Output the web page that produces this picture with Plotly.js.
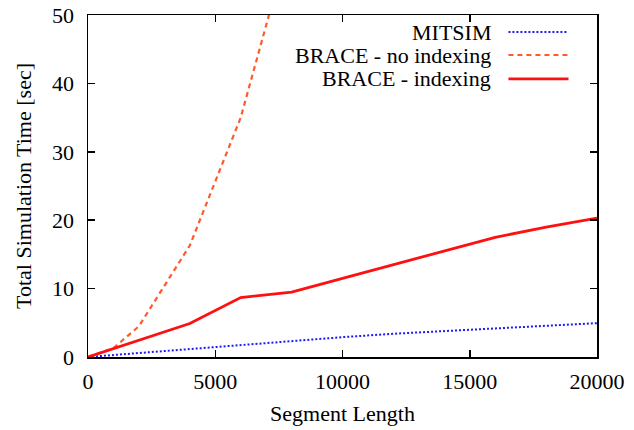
<!DOCTYPE html>
<html><head><meta charset="utf-8">
<script src="https://cdn.plot.ly/plotly-3.0.1.min.js"></script>
<style>html,body{margin:0;padding:0;background:#fff}#c{width:634px;height:430px}</style>
</head><body><div id="c"></div>
<script>
const seriesNames = ["MITSIM", "BRACE - no indexing", "BRACE - indexing"];
const xMitsim = [0, 2000, 4000, 6000, 8000, 10000, 12000, 14000, 16000, 18000, 20000];
const yMitsim = [0, 0.6, 1.2, 1.8, 2.4, 2.9, 3.4, 3.8, 4.2, 4.6, 4.95];
const xNoIdx = [0, 1000, 2000, 4000, 6000, 8000];
const yNoIdx = [0, 1.3, 4.5, 16.3, 35, 62];
const xIdx = [0, 2000, 4000, 6000, 8000, 10000, 12000, 14000, 16000, 18000, 20000];
const yIdx = [0, 2.5, 4.9, 8.7, 9.5, 11.5, 13.5, 15.5, 17.5, 19.0, 20.3];
const xTicks = [0, 5000, 10000, 15000, 20000];
const yTicks = [0, 10, 20, 30, 40, 50];

const F = "Liberation Serif";
const FS = 22;
const traces = [
  {x: xMitsim, y: yMitsim, mode: "lines", name: seriesNames[0],
   line: {color: "#1a1aff", width: 2, dash: "2px,2px"}},
  {x: xNoIdx, y: yNoIdx, mode: "lines", name: seriesNames[1],
   line: {color: "#ff5a2a", width: 2.2, dash: "5px,4px"}},
  {x: xIdx, y: yIdx, mode: "lines", name: seriesNames[2],
   line: {color: "#ff1010", width: 2.8}}
];
const legY = [0.950, 0.883, 0.813];
const legDash = ["2px,2px", "5px,4px", "solid"];
const legColor = ["#1a1aff", "#ff5a2a", "#ff1010"];
const legW = [2, 2.2, 2.8];
const annotations = [], shapes = [];
for (let i = 0; i < 3; i++) {
  annotations.push({xref: "paper", yref: "paper", x: 0.796, y: legY[i], xanchor: "right", yanchor: "middle",
    text: seriesNames[i], showarrow: false, font: {family: F, size: FS, color: "#000"}});
  shapes.push({type: "line", xref: "paper", yref: "paper", x0: 0.826, x1: 0.944, y0: legY[i], y1: legY[i],
    line: {color: legColor[i], width: legW[i], dash: legDash[i]}});
}
const layout = {
  width: 634, height: 430,
  margin: {l: 88, r: 37, t: 15, b: 73},
  paper_bgcolor: "#fff", plot_bgcolor: "#fff",
  showlegend: false,
  xaxis: {range: [0, 20000], tickvals: xTicks, ticktext: xTicks.map(String),
    ticks: "inside", ticklen: 7, tickwidth: 1.5, tickcolor: "#000", mirror: "ticks",
    showline: true, linecolor: "#000", linewidth: 1.5, showgrid: false, zeroline: false,
    tickfont: {family: F, size: FS, color: "#000"}, ticklabelstandoff: 4,
    title: {text: "Segment Length", font: {family: F, size: FS, color: "#000"}, standoff: 12}},
  yaxis: {range: [0, 50], tickvals: yTicks, ticktext: yTicks.map(String),
    ticks: "inside", ticklen: 7, tickwidth: 1.5, tickcolor: "#000", mirror: "ticks",
    showline: true, linecolor: "#000", linewidth: 1.5, showgrid: false, zeroline: false,
    tickfont: {family: F, size: FS, color: "#000"}, ticklabelstandoff: 8,
    title: {text: "Total Simulation Time [sec]", font: {family: F, size: FS, color: "#000"}, standoff: 14}},
  annotations: annotations, shapes: shapes
};
Plotly.newPlot("c", traces, layout, {staticPlot: true});
</script></body></html>
